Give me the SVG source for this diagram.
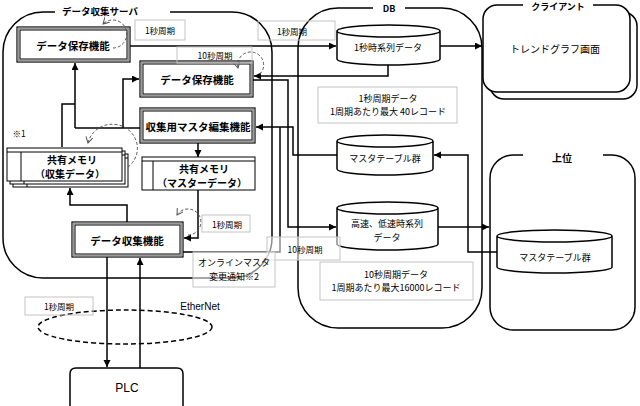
<svg xmlns="http://www.w3.org/2000/svg" width="640" height="406" viewBox="0 0 640 406">
<style>
.t{font-family:"Noto Sans CJK JP","Noto Sans",sans-serif;fill:#000;text-anchor:middle;dominant-baseline:central}
.b{font-weight:bold;font-size:10.5px}
.bm{font-weight:bold;font-size:10px}
.s{font-size:9px}
.xs{font-size:8.5px}
.lbl{fill:#fff;fill-opacity:0.55;stroke:#c4c4c4;stroke-width:1}
.ln{fill:none;stroke:#000;stroke-width:1.5}
.cont{fill:none;stroke:#000;stroke-width:1.5}
.dash{fill:none;stroke:#555;stroke-width:1;stroke-dasharray:3 2}
.o{fill:#fff;stroke:#000;stroke-width:1.2}
.m{fill:none;stroke:#9a9a9a;stroke-width:1.5}
.i{fill:none;stroke:#000;stroke-width:1}
.cyl{fill:#fff;stroke:#000;stroke-width:1.5}
.mem{fill:#fff;stroke:#000;stroke-width:1}
</style>
<defs>
<marker id="ar" markerUnits="userSpaceOnUse" markerWidth="8" markerHeight="8" refX="7" refY="3.5" orient="auto"><path d="M0,0 L7,3.5 L0,7 z" fill="#000"/></marker>
<marker id="da" markerUnits="userSpaceOnUse" markerWidth="8" markerHeight="8" refX="6" refY="3.5" orient="auto"><path d="M0,0 L6,3.5 L0,7" fill="none" stroke="#555" stroke-width="1"/></marker>
</defs>
<rect width="640" height="406" fill="#fff"/>

<!-- containers -->
<g id="server">
<path class="cont" d="M55,12 H43 A40,40 0 0 0 3,52 V238 A40,40 0 0 0 43,278 H232 A40,40 0 0 0 272,238 V52 A40,40 0 0 0 232,12 H170"/>
<text class="t" x="100" y="11" style="font-size:9.5px;font-weight:bold">データ収集サーバ</text>
</g>
<g id="db">
<path class="cont" d="M373,8 H338 A40,40 0 0 0 298,48 V288 A40,40 0 0 0 338,328 H442 A40,40 0 0 0 482,288 V48 A40,40 0 0 0 442,8 H405"/>
<text class="t" x="389" y="8" style="font-size:9px;font-weight:bold">DB</text>
</g>
<g id="client">
<rect x="490" y="12" width="147" height="87" rx="14" fill="#fff" stroke="#000" stroke-width="1.5"/>
<rect x="483" y="5" width="147" height="87" rx="14" fill="#fff" stroke="none"/>
<path class="cont" d="M523,5 H497 A14,14 0 0 0 483,19 V78 A14,14 0 0 0 497,92 H616 A14,14 0 0 0 630,78 V19 A14,14 0 0 0 616,5 H593"/>
<text class="t" x="558" y="6" style="font-size:9px;font-weight:bold">クライアント</text>
<text class="t" x="555" y="48" style="font-size:10px">トレンドグラフ画面</text>
</g>
<g id="upper">
<path class="cont" d="M523,155 H513 A23,23 0 0 0 490,178 V307 A23,23 0 0 0 513,330 H612 A23,23 0 0 0 635,307 V178 A23,23 0 0 0 612,155 H603"/>
<text class="t" x="562" y="157" style="font-size:10px;font-weight:bold">上位</text>
</g>

<!-- connectors -->
<g id="connectors">
<path class="ln" d="M130,46 H336" marker-end="url(#ar)"/>
<path class="ln" d="M440,46 H482" marker-end="url(#ar)"/>
<path class="ln" d="M388,65 V76 H254" marker-end="url(#ar)"/>
<path class="ln" d="M253,80 H288 V227 H336" marker-end="url(#ar)"/>
<path class="ln" d="M337,155 H293 V127 H256" marker-end="url(#ar)"/>
<path class="ln" d="M183,252 H280 V127"/>
<path class="ln" d="M438,227 H489" marker-end="url(#ar)"/>
<path class="ln" d="M497,252 H468 V155 H434" marker-end="url(#ar)"/>
<path class="ln" d="M198,143 V157" marker-end="url(#ar)"/>
<path class="ln" d="M198,190 V238 H184" marker-end="url(#ar)"/>
<path class="ln" d="M127,222 V205 H70 V188" marker-end="url(#ar)"/>
<path class="ln" d="M107,257 V367" marker-end="url(#ar)"/>
<path class="ln" d="M140,368 V258" marker-end="url(#ar)"/>
<path class="ln" d="M62,147 V104 H75"/>
<path class="ln" d="M75,128 V63" marker-end="url(#ar)"/>
<path class="ln" d="M75,128 H140"/>
<path class="ln" d="M123,128 V79 H139" marker-end="url(#ar)"/>
<ellipse cx="125" cy="327" rx="87" ry="17" fill="none" stroke="#000" stroke-width="1.5" stroke-dasharray="5 3"/>
</g>

<!-- server nodes -->
<g id="save1">
<rect class="o" x="17" y="27" width="113" height="35"/>
<rect class="m" x="18.5" y="28.5" width="110" height="32"/>
<rect class="i" x="20" y="30" width="107" height="29"/>
<text class="t b" x="73" y="45">データ保存機能</text>
</g>
<g id="save2">
<rect class="o" x="140" y="61" width="113" height="36"/>
<rect class="m" x="141.5" y="62.5" width="110" height="33"/>
<rect class="i" x="143" y="64" width="107" height="30"/>
<text class="t b" x="197" y="79">データ保存機能</text>
</g>
<g id="masteredit">
<rect class="o" x="140" y="108" width="115" height="35"/>
<rect class="m" x="141.5" y="109.5" width="112" height="32"/>
<rect class="i" x="143" y="111" width="109" height="29"/>
<text class="t b" x="198" y="126">収集用マスタ編集機能</text>
</g>
<g id="memmaster">
<rect class="mem" x="142" y="157" width="113" height="33"/>
<path class="i" d="M142,161 H255 M153,161 V190"/>
<text class="t bm" x="204" y="168">共有メモリ</text>
<text class="t bm" x="202" y="182">（マスターデータ）</text>
</g>
<g id="memcollect">
<rect class="mem" x="13" y="154" width="115" height="33"/>
<path class="i" d="M13,158 H128 M27,158 V187"/>
<rect class="mem" x="10" y="151" width="115" height="33"/>
<path class="i" d="M10,155 H125 M24,155 V184"/>
<rect class="mem" x="7" y="148" width="115" height="33"/>
<path class="i" d="M7,152 H122 M21,152 V181"/>
<text class="t bm" x="72" y="159">共有メモリ</text>
<text class="t bm" x="70" y="173">（収集データ）</text>
</g>
<g id="collect">
<rect class="o" x="72" y="222" width="111" height="35"/>
<rect class="m" x="73.5" y="223.5" width="108" height="32"/>
<rect class="i" x="75" y="225" width="105" height="29"/>
<text class="t b" x="127" y="240">データ収集機能</text>
</g>
<g id="plc">
<path fill="#fff" stroke="#000" stroke-width="1.5" d="M70,410 V374 Q70,368 76,368 H177 Q183,368 183,374 V410"/>
<text class="t" x="127" y="388" style="font-family:'Liberation Sans',Arial,sans-serif;font-size:12px">PLC</text>
</g>

<!-- DB nodes -->
<g id="ts1">
<path class="cyl" d="M337,31 A51.5,6 0 0 1 440,31 V59 A51.5,6 0 0 1 337,59 Z M337,31 A51.5,6 0 0 0 440,31"/>
<text class="t s" x="388" y="47">1秒時系列データ</text>
</g>
<g id="dbmaster">
<path class="cyl" d="M337,141 A48,6 0 0 1 433,141 V169 A48,6 0 0 1 337,169 Z M337,141 A48,6 0 0 0 433,141"/>
<text class="t s" x="385" y="158">マスタテーブル群</text>
</g>
<g id="tsfast">
<path class="cyl" d="M337,208 A50.5,6 0 0 1 438,208 V244 A50.5,6 0 0 1 337,244 Z M337,208 A50.5,6 0 0 0 438,208"/>
<text class="t s" x="387" y="223">高速、低速時系列</text>
<text class="t s" x="387" y="237">データ</text>
</g>
<g id="uppermaster">
<path class="cyl" d="M497,236 A57.5,6 0 0 1 612,236 V267 A57.5,6 0 0 1 497,267 Z M497,236 A57.5,6 0 0 0 612,236"/>
<text class="t s" x="555" y="257">マスタテーブル群</text>
</g>

<!-- cyclic dashed arrows -->
<g id="cycles">
<path class="dash" d="M113,48 A14,14 0 1 0 103,24" marker-end="url(#da)"/>
<path class="dash" d="M260,74 A13,13 0 1 0 238,68" marker-end="url(#da)"/>
<path class="dash" d="M128,167 A25,24 0 1 0 88,143" marker-end="url(#da)"/>
<path class="dash" d="M188,235 A13,13 0 1 0 177,215" marker-end="url(#da)"/>
</g>

<!-- labels -->
<g id="labels">
<rect class="lbl" x="135" y="20" width="50" height="20" style="fill:none"/>
<text class="t xs" x="160" y="30">1秒周期</text>
<rect class="lbl" x="258" y="21" width="77" height="19" style="fill:none"/>
<text class="t xs" x="292" y="31">1秒周期</text>
<rect class="lbl" x="177" y="47" width="75" height="16" style="fill:none"/>
<text class="t xs" x="215" y="55">10秒周期</text>
<rect class="lbl" x="318" y="87" width="139" height="36"/>
<text class="t s" x="388" y="98">1秒周期データ</text>
<text class="t s" x="388" y="111">1周期あたり最大 40レコード</text>
<rect class="lbl" x="202" y="215" width="48" height="17" style="fill:none"/>
<text class="t xs" x="227" y="224">1秒周期</text>
<rect class="lbl" x="267" y="237" width="73" height="23"/>
<text class="t xs" x="305" y="249">10秒周期</text>
<rect class="lbl" x="193" y="252" width="82" height="35"/>
<text class="t s" x="234" y="262">オンラインマスタ</text>
<text class="t s" x="234" y="276">変更通知※2</text>
<rect class="lbl" x="320" y="262" width="153" height="38"/>
<text class="t s" x="396" y="274">10秒周期データ</text>
<text class="t s" x="396" y="287">1周期あたり最大16000レコード</text>
<text class="t xs" x="19" y="133">※1</text>
<rect class="lbl" x="25" y="297" width="68" height="18" style="fill:none"/>
<text class="t xs" x="59" y="306">1秒周期</text>
<text class="t" x="200" y="306" style="font-family:'Liberation Sans',Arial,sans-serif;font-size:10px">EtherNet</text>
</g>
</svg>
